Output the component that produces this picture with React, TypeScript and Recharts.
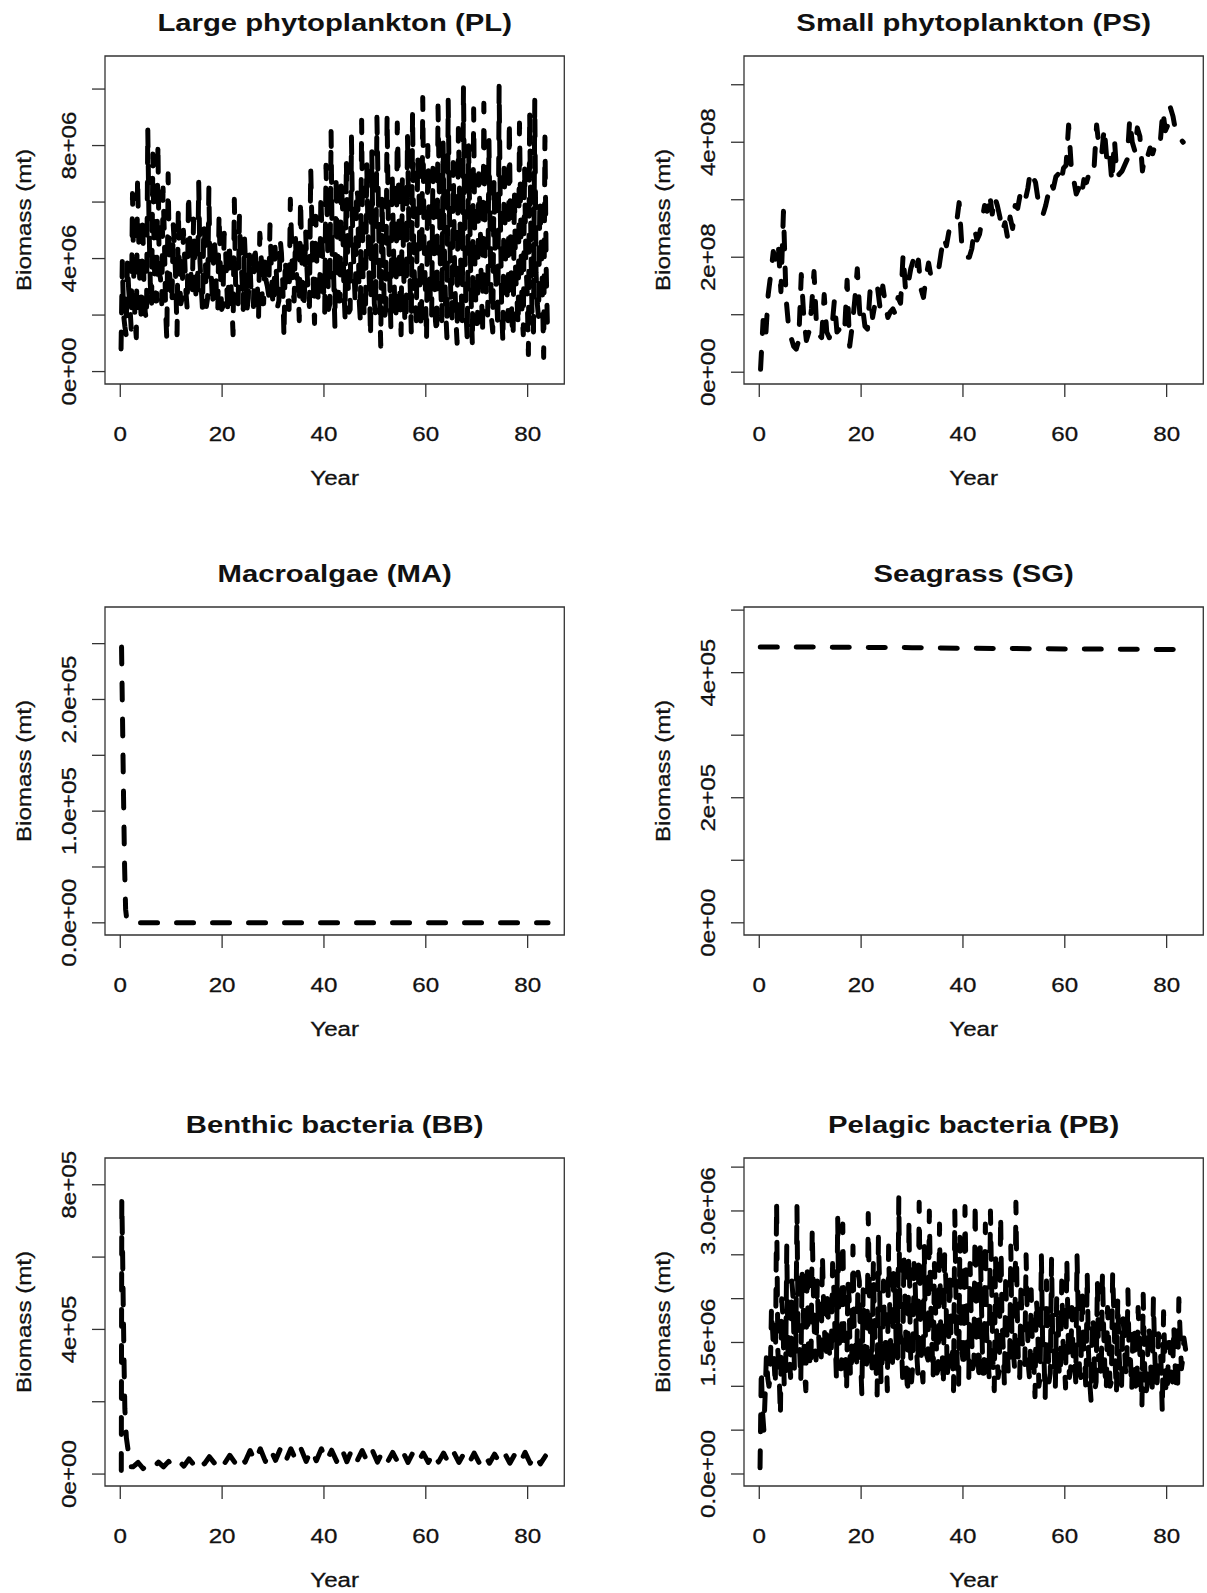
import React from 'react';
import { LineChart, Line, XAxis, YAxis, ReferenceArea, Label } from 'recharts';

// ---- data (years on x, biomass in mt on y) ----

// Large phytoplankton, per model year: trough, bloom peak, secondary level, second trough (1e6 mt)
const PL_LOW = [
  0.8, 1.3, 1.5, 1.2, 1.7, 1.8, 2.3, 2.5, 2.4, 1.1,
  2.4, 1.3, 2.6, 2.2, 2.9, 2.5, 2.2, 2.6, 2.3, 2.1,
  2.3, 2.0, 1.3, 2.4, 2.2, 2.6, 2.3, 1.8, 2.4, 2.7,
  2.3, 2.5, 1.2, 2.2, 2.5, 1.8, 2.6, 2.3, 1.7, 2.5,
  2.1, 2.4, 1.6, 2.5, 1.9, 2.2, 2.4, 1.8, 1.9, 1.2,
  2.0, 0.9, 2.2, 1.5, 1.9, 1.3, 1.7, 1.4, 1.8, 1.5,
  1.1, 2.0, 1.3, 1.8, 1.2, 1.9, 1.0, 1.6, 1.1, 0.9,
  1.7, 1.3, 2.0, 1.4, 1.5, 1.0, 1.8, 1.2, 1.6, 1.3,
  0.6, 1.4, 1.9, 0.5,
];
const PL_HIGH = [
  3.9, 3.9, 6.3, 6.9, 5.5, 8.6, 7.7, 8.1, 6.5, 7.0,
  5.2, 5.8, 5.0, 6.3, 5.4, 6.7, 5.2, 6.5, 4.8, 5.6,
  4.9, 4.6, 6.1, 5.5, 4.7, 4.2, 4.5, 4.9, 3.9, 5.2,
  4.4, 4.7, 4.0, 6.1, 4.8, 6.1, 5.0, 7.2, 5.5, 6.3,
  7.3, 8.5, 7.0, 6.8, 7.5, 8.3, 6.5, 8.9, 7.4, 7.8,
  9.0, 6.2, 9.1, 7.0, 8.8, 6.9, 8.4, 9.2, 7.6, 9.7,
  8.0, 7.2, 9.4, 8.1, 9.6, 7.4, 8.6, 10.1, 8.0, 9.3,
  7.0, 9.5, 8.2, 6.8, 10.1, 7.5, 8.9, 6.4, 8.8, 7.3,
  9.2, 9.6, 6.1, 8.3,
];
const PL_MID = [
  2.0, 2.9, 3.3, 4.4, 3.1, 5.2, 4.1, 3.5, 4.9, 3.6,
  4.4, 3.2, 4.0, 4.7, 3.5, 3.9, 4.6, 3.3, 4.2, 3.7,
  4.5, 3.4, 3.1, 4.1, 3.6, 3.0, 3.9, 4.3, 3.2, 3.8,
  3.5, 4.2, 3.1, 4.6, 3.3, 4.0, 3.7, 5.1, 3.4, 4.5,
  5.3, 3.6, 4.4, 5.8, 3.9, 4.8, 6.2, 3.5, 5.0, 4.3,
  6.4, 3.8, 5.1, 4.5, 6.6, 3.6, 5.4, 4.1, 6.9, 4.7,
  5.2, 3.9, 6.5, 4.4, 5.6, 3.7, 6.1, 4.9, 5.3, 3.8,
  5.7, 4.2, 4.8, 3.6, 5.5, 4.0, 4.6, 3.4, 5.2, 3.9,
  4.4, 3.5, 4.8, 3.6,
];
const PL_LOW2 = [
  1.6, 2.3, 1.8, 2.7, 2.1, 3.1, 2.5, 3.3, 2.2, 2.9,
  3.2, 2.4, 2.8, 3.4, 2.5, 3.0, 2.3, 3.3, 2.6, 2.2,
  3.1, 2.5, 2.7, 3.3, 2.2, 2.9, 3.2, 2.4, 3.0, 2.6,
  2.3, 3.2, 2.6, 2.9, 3.3, 2.2, 2.7, 3.1, 2.4, 3.0,
  2.2, 3.4, 2.5, 3.0, 2.1, 3.6, 2.6, 2.0, 3.2, 2.4,
  3.0, 1.9, 3.5, 2.3, 2.8, 1.7, 3.3, 2.5, 2.0, 3.1,
  2.4, 1.8, 3.2, 2.2, 2.7, 1.9, 3.4, 2.1, 2.6, 1.7,
  3.0, 2.3, 1.9, 2.8, 2.2, 3.1, 1.8, 2.6, 2.1, 2.9,
  1.6, 2.4, 2.9, 1.5,
];

// Small phytoplankton, half-yearly from year 0.25 (1e8 mt)
const PS_VALUES = [
  0.05, 0.9, 0.6, 1.35, 1.7, 2.1, 1.95, 2.2, 1.4, 2.8,
  1.3, 0.8, 0.6, 0.45, 0.4, 0.55, 1.7, 0.95, 0.55, 0.7,
  1.1, 1.75, 0.8, 0.65, 0.6, 1.35, 0.7, 0.6, 0.75, 1.25,
  0.7, 0.75, 0.65, 0.7, 1.6, 0.45, 0.8, 1.25, 1.8, 1.0,
  1.15, 0.8, 0.75, 1.4, 0.95, 1.2, 1.45, 1.1, 1.5, 1.2,
  0.95, 1.05, 1.1, 1.0, 1.3, 1.2, 2.05, 1.4, 1.55, 1.8,
  1.95, 1.75, 1.95, 1.45, 1.3, 1.65, 1.9, 1.65, 1.7, 1.8,
  1.8, 2.1, 2.35, 2.2, 2.45, 2.55, 2.6, 2.6, 2.95, 2.25,
  2.05, 2.0, 2.0, 2.15, 2.5, 2.3, 2.4, 2.65, 2.9, 2.8,
  3.1, 2.75, 3.05, 2.9, 2.7, 2.45, 2.6, 2.35, 2.7, 2.5,
  2.9, 2.85, 3.1, 2.95, 3.0, 3.2, 3.5, 3.4, 3.3, 3.0,
  2.8, 2.75, 2.9, 3.1, 3.3, 3.2, 3.4, 3.45, 3.3, 3.55,
  3.6, 4.3, 3.6, 3.35, 3.1, 3.2, 3.05, 3.35, 3.3, 3.45,
  3.6, 3.55, 4.3, 3.9, 3.8, 4.25, 3.7, 3.85, 3.3, 4.05,
  3.4, 3.45, 3.5, 3.6, 3.7, 4.4, 4.0, 3.85, 4.25, 4.1,
  3.5, 3.8, 3.75, 3.9, 3.8, 3.95, 4.05, 4.0, 4.55, 4.2,
  4.3, 4.6, 4.45, 4.2, 4.1, 4.05, 4.0,
];

// Macroalgae (1e5 mt)
const MA_YEARS = [0.25, 0.45, 0.65, 0.85, 1.05, 1.3, 2, 84];
const MA_VALUES = [2.47, 1.8, 1.1, 0.5, 0.12, 0.02, 0, 0];

// Seagrass (1e5 mt)
const SG_YEARS = [0.2, 10, 20, 30, 40, 50, 60, 70, 84];
const SG_VALUES = [4.41, 4.41, 4.405, 4.4, 4.39, 4.385, 4.38, 4.375, 4.37];

// Benthic bacteria (1e5 mt): initial spike, then yearly values from 2.5
const BB_SPIKE_YEARS = [0.2, 0.3, 0.45, 0.6, 0.75, 0.9, 1.2, 1.6, 2.0];
const BB_SPIKE_VALUES = [0.1, 7.6, 6.2, 4.5, 3.0, 1.8, 1.0, 0.6, 0.2];
const BB_YEARLY = [
  0.2, 0.32, 0.15, 0.3, 0.18, 0.33, 0.2, 0.35, 0.2, 0.36,
  0.22, 0.42, 0.25, 0.45, 0.28, 0.48, 0.3, 0.5, 0.3, 0.52, 0.32, 0.55, 0.33,
  0.65, 0.35, 0.7, 0.35, 0.68, 0.38, 0.72, 0.36, 0.7, 0.38, 0.7, 0.35, 0.68,
  0.37, 0.7, 0.36, 0.66, 0.35, 0.7, 0.34, 0.68, 0.36, 0.65, 0.35, 0.66, 0.33,
  0.62, 0.34, 0.6, 0.33, 0.62, 0.32, 0.6, 0.34, 0.58, 0.32, 0.6, 0.33, 0.58,
  0.3, 0.6, 0.32, 0.57, 0.3, 0.58, 0.31, 0.56, 0.3, 0.55, 0.32, 0.57, 0.3,
  0.55, 0.31, 0.6, 0.3, 0.55, 0.28, 0.5,
];

// Pelagic bacteria, per year: trough, peak, secondary level, second trough (1e6 mt)
const PB_LOW = [
  0.07, 0.9, 1.1, 1.0, 0.66, 1.0, 1.1, 1.2, 1.05, 0.95,
  1.2, 1.3, 1.25, 1.3, 1.4, 1.1, 1.2, 0.95, 1.3, 1.25,
  0.9, 1.3, 1.2, 0.9, 1.3, 0.95, 1.2, 1.3, 1.1, 0.9,
  1.25, 1.15, 1.05, 1.3, 1.1, 1.2, 1.0, 1.3, 0.95, 1.0,
  1.2, 1.1, 1.25, 1.05, 1.15, 1.1, 0.95, 1.2, 1.0, 1.15,
  1.2, 1.1, 1.25, 1.05, 0.88, 1.1, 0.86, 1.15, 1.0, 1.1,
  0.98, 1.2, 1.05, 1.1, 0.95, 0.84, 1.05, 1.1, 0.95, 1.05,
  0.92, 1.0, 1.1, 0.95, 0.9, 0.76, 1.0, 0.9, 1.05, 0.7,
  0.95, 1.05, 0.93, 1.3,
];
const PB_HIGH = [
  1.2, 1.35, 1.9, 3.1, 2.0, 2.6, 2.2, 3.05, 2.3, 2.4,
  2.8, 2.2, 2.5, 2.1, 2.4, 2.93, 2.85, 2.2, 2.6, 2.3,
  2.1, 2.97, 2.4, 2.7, 2.2, 2.6, 2.3, 3.15, 2.5, 2.9,
  2.4, 3.1, 2.6, 3.0, 2.4, 2.85, 2.5, 2.3, 3.0, 2.7,
  3.05, 2.4, 3.1, 2.6, 2.85, 3.0, 2.5, 2.95, 2.3, 2.6,
  3.1, 2.2, 2.5, 2.1, 2.0, 2.5, 2.2, 2.45, 2.0, 2.2,
  2.45, 1.9, 2.5, 2.1, 2.3, 1.8, 2.2, 2.3, 1.9, 2.3,
  2.0, 1.8, 2.1, 1.7, 1.9, 2.05, 1.7, 2.0, 1.6, 1.85,
  1.5, 1.7, 2.0, 1.55,
];
const PB_MID = [
  0.7, 1.1, 1.6, 1.4, 1.8, 1.3, 2.0, 1.5, 1.9, 1.4,
  2.0, 1.6, 1.9, 1.5, 2.1, 1.7, 1.5, 2.0, 1.6, 2.2,
  1.5, 1.9, 1.7, 2.1, 1.5, 1.8, 2.2, 1.6, 1.9, 1.5,
  2.1, 1.7, 1.5, 2.0, 1.8, 1.5, 2.2, 1.6, 1.9, 1.5,
  2.0, 1.7, 1.5, 1.9, 1.6, 2.1, 1.5, 1.8, 1.6, 1.4,
  1.9, 1.5, 1.7, 1.4, 1.8, 1.5, 1.7, 1.4, 1.9, 1.5,
  1.6, 1.3, 1.8, 1.5, 1.4, 1.7, 1.3, 1.6, 1.5, 1.8,
  1.4, 1.6, 1.3, 1.7, 1.5, 1.3, 1.6, 1.4, 1.55, 1.3,
  1.5, 1.25, 1.6, 1.45,
];
const PB_LOW2 = [
  0.5, 1.0, 1.3, 1.15, 1.0, 1.35, 1.2, 1.45, 1.15, 1.3,
  1.45, 1.25, 1.5, 1.3, 1.55, 1.2, 1.4, 1.1, 1.5, 1.3,
  1.15, 1.45, 1.25, 1.05, 1.5, 1.2, 1.4, 1.5, 1.2, 1.05,
  1.4, 1.2, 1.35, 1.5, 1.15, 1.45, 1.1, 1.5, 1.2, 1.35,
  1.45, 1.2, 1.5, 1.15, 1.35, 1.25, 1.1, 1.45, 1.15, 1.4,
  1.25, 1.4, 1.2, 1.3, 1.0, 1.35, 1.05, 1.4, 1.15, 1.3,
  1.1, 1.35, 1.15, 1.3, 1.05, 0.95, 1.3, 1.15, 1.0, 1.25,
  1.05, 1.2, 1.3, 1.0, 1.15, 0.9, 1.2, 1.0, 1.25, 0.9,
  1.15, 1.0, 1.2, 1.35,
];

// axis ticks and their printed labels ('' = tick only)
const X_TICKS = [0, 20, 40, 60, 80];
const PL_Y_TICKS = [0, 2e6, 4e6, 6e6, 8e6, 10e6];
const PL_Y_LABELS = ['0e+00', '', '4e+06', '', '8e+06', ''];
const PS_Y_TICKS = [0, 1e8, 2e8, 3e8, 4e8, 5e8];
const PS_Y_LABELS = ['0e+00', '', '2e+08', '', '4e+08', ''];
const MA_Y_TICKS = [0, 0.5e5, 1e5, 1.5e5, 2e5, 2.5e5];
const MA_Y_LABELS = ['0.0e+00', '', '1.0e+05', '', '2.0e+05', ''];
const SG_Y_TICKS = [0, 1e5, 2e5, 3e5, 4e5, 5e5];
const SG_Y_LABELS = ['0e+00', '', '2e+05', '', '4e+05', ''];
const BB_Y_TICKS = [0, 2e5, 4e5, 6e5, 8e5];
const BB_Y_LABELS = ['0e+00', '', '4e+05', '', '8e+05'];
const PB_Y_TICKS = [0, 0.5e6, 1e6, 1.5e6, 2e6, 2.5e6, 3e6, 3.5e6];
const PB_Y_LABELS = ['0.0e+00', '', '', '1.5e+06', '', '', '3.0e+06', ''];

// ---- table builders ----
type Row = { t: number; v: number };

// four samples per model year, in the order trough, peak, secondary, second trough
function seasonal(parts: number[][], unit: number): Row[] {
  const rows: Row[] = [];
  const offsets = [0.15, 0.4, 0.65, 0.9];
  parts[0].forEach((_, i) => {
    parts.forEach((arr, k) => rows.push({ t: i + offsets[k], v: arr[i] * unit }));
  });
  return rows;
}

function stepped(values: number[], start: number, step: number, unit: number): Row[] {
  return values.map((v, i) => ({ t: start + i * step, v: v * unit }));
}

function paired(years: number[], values: number[], unit: number): Row[] {
  return years.map((t, i) => ({ t, v: values[i] * unit }));
}

const plData = seasonal([PL_LOW, PL_HIGH, PL_MID, PL_LOW2], 1e6);
const psData = stepped(PS_VALUES, 0.25, 0.5, 1e8);
const maData = paired(MA_YEARS, MA_VALUES, 1e5);
const sgData = paired(SG_YEARS, SG_VALUES, 1e5);
const bbData = [...paired(BB_SPIKE_YEARS, BB_SPIKE_VALUES, 1e5), ...stepped(BB_YEARLY, 2.5, 1, 1e5)];
const pbData = seasonal([PB_LOW, PB_HIGH, PB_MID, PB_LOW2], 1e6);

// ---- layout ----
const BOX_W = 459.3;
const BOX_H = 328;
const ML = 105;
const MT = 56;
const MB = 110;
const MR = 3;
const CHART_W = ML + BOX_W + MR;
const CHART_H = MT + BOX_H + MB;
const X_DOMAIN: [number, number] = [-3.0, 87.2];
const TICK_LEN = 13;
const INK = '#111';
const AXIS = '#333';
const FONT = '"Liberation Sans", Arial, Helvetica, sans-serif';
const STRETCH = 1.15;

const textStyle: React.CSSProperties = {
  fontFamily: FONT,
  fontSize: 21,
  fill: INK,
  stroke: INK,
  strokeWidth: 0.3,
};

function XTick(props: any) {
  const { x, payload } = props;
  const y0 = MT + BOX_H;
  return (
    <g>
      <line x1={x} x2={x} y1={y0} y2={y0 + TICK_LEN} stroke={AXIS} strokeWidth={1.3} />
      <text transform={`translate(${x},${y0 + 57}) scale(${STRETCH},1)`} textAnchor="middle" style={textStyle}>
        {payload.value}
      </text>
    </g>
  );
}

function makeYTick(ticks: number[], labels: string[]) {
  return (props: any) => {
    const { y, payload } = props;
    const label = labels[ticks.indexOf(payload.value)];
    return (
      <g>
        <line x1={ML - TICK_LEN} x2={ML} y1={y} y2={y} stroke={AXIS} strokeWidth={1.3} />
        {label ? (
          <text
            transform={`translate(${ML - 28.5},${y}) rotate(-90) scale(${STRETCH},1)`}
            textAnchor="middle"
            style={textStyle}
          >
            {label}
          </text>
        ) : null}
      </g>
    );
  };
}

type PanelProps = {
  title: string;
  data: Row[];
  yDomain: [number, number];
  yTicks: number[];
  yLabels: string[];
  left: number;
  top: number;
};

function Panel({ title, data, yDomain, yTicks, yLabels, left, top }: PanelProps) {
  const cx = ML + BOX_W / 2;
  const cy = MT + BOX_H / 2;
  return (
    <div style={{ position: 'absolute', left, top, width: CHART_W, height: CHART_H }}>
      <LineChart width={CHART_W} height={CHART_H} data={data} margin={{ top: MT, right: MR, bottom: 0, left: 0 }}>
        <XAxis
          dataKey="t"
          type="number"
          domain={X_DOMAIN}
          ticks={X_TICKS}
          interval={0}
          allowDataOverflow
          axisLine={false}
          tickLine={false}
          height={MB}
          tick={XTick}
        >
          <Label
            content={() => (
              <g>
                <text
                  transform={`translate(${cx},${MT - 25.5}) scale(1.22,1)`}
                  textAnchor="middle"
                  style={{ fontFamily: FONT, fontSize: 24, fontWeight: 700, fill: INK }}
                >
                  {title}
                </text>
                <text
                  transform={`translate(${cx},${MT + BOX_H + 101.5}) scale(${STRETCH},1)`}
                  textAnchor="middle"
                  style={textStyle}
                >
                  Year
                </text>
                <text
                  transform={`translate(${ML - 74},${cy}) rotate(-90) scale(${STRETCH},1)`}
                  textAnchor="middle"
                  style={textStyle}
                >
                  Biomass (mt)
                </text>
              </g>
            )}
          />
        </XAxis>
        <YAxis
          type="number"
          domain={yDomain}
          ticks={yTicks}
          interval={0}
          allowDataOverflow
          axisLine={false}
          tickLine={false}
          width={ML}
          tick={makeYTick(yTicks, yLabels)}
        />
        <ReferenceArea
          x1={X_DOMAIN[0]}
          x2={X_DOMAIN[1]}
          y1={yDomain[0]}
          y2={yDomain[1]}
          fill="none"
          stroke={AXIS}
          strokeWidth={1.3}
          ifOverflow="visible"
        />
        <Line
          type="linear"
          dataKey="v"
          stroke="#000"
          strokeWidth={5}
          strokeDasharray="17 19"
          strokeLinecap="round"
          strokeLinejoin="round"
          dot={false}
          activeDot={false}
          isAnimationActive={false}
        />
      </LineChart>
    </div>
  );
}

const COL = [0.2, 639.4];
const ROW = [-0.5, 550.7, 1102.3];

export default function App() {
  return (
    <div style={{ position: 'absolute', left: 0, top: 0, width: 1207, height: 1593, background: '#fff', overflow: 'hidden' }}>
      <Panel title="Large phytoplankton (PL)" data={plData} yDomain={[-0.44e6, 11.17e6]}
        yTicks={PL_Y_TICKS} yLabels={PL_Y_LABELS} left={COL[0]} top={ROW[0]} />
      <Panel title="Small phytoplankton (PS)" data={psData} yDomain={[-0.205e8, 5.5e8]}
        yTicks={PS_Y_TICKS} yLabels={PS_Y_LABELS} left={COL[1]} top={ROW[0]} />
      <Panel title="Macroalgae (MA)" data={maData} yDomain={[-0.109e5, 2.828e5]}
        yTicks={MA_Y_TICKS} yLabels={MA_Y_LABELS} left={COL[0]} top={ROW[1]} />
      <Panel title="Seagrass (SG)" data={sgData} yDomain={[-0.195e5, 5.05e5]}
        yTicks={SG_Y_TICKS} yLabels={SG_Y_LABELS} left={COL[1]} top={ROW[1]} />
      <Panel title="Benthic bacteria (BB)" data={bbData} yDomain={[-0.33e5, 8.74e5]}
        yTicks={BB_Y_TICKS} yLabels={BB_Y_LABELS} left={COL[0]} top={ROW[2]} />
      <Panel title="Pelagic bacteria (PB)" data={pbData} yDomain={[-0.137e6, 3.604e6]}
        yTicks={PB_Y_TICKS} yLabels={PB_Y_LABELS} left={COL[1]} top={ROW[2]} />
    </div>
  );
}
